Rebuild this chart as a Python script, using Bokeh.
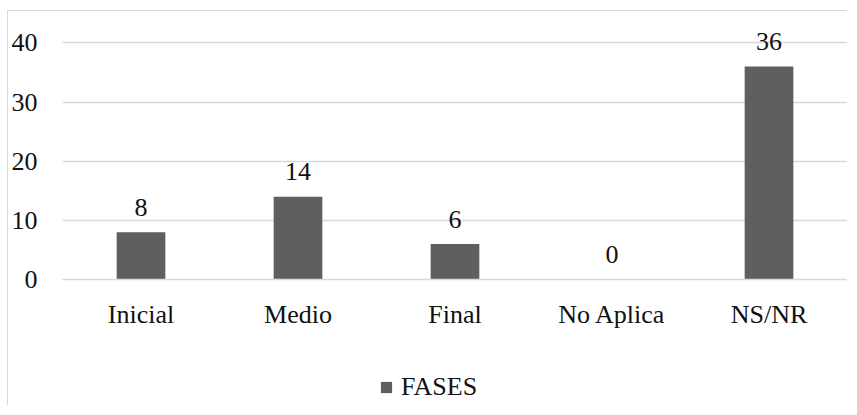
from bokeh.plotting import figure
from bokeh.layouts import column
from bokeh.models import ColumnDataSource, LabelSet, Legend, LegendItem, Range1d, SingleIntervalTicker
from bokeh.embed import file_html
from bokeh.resources import INLINE

categories = ["Inicial", "Medio", "Final", "No Aplica", "NS/NR"]
values = [8, 14, 6, 0, 36]
series_name = "FASES"

FONT = "Liberation Serif"
BAR = "#5f5f5f"
GRID = "#d9d9d9"
TXT = "#111111"

src = ColumnDataSource(dict(cat=categories, val=values, lab=[str(v) for v in values]))

p = figure(x_range=categories, width=839, height=330, output_backend="svg",
           toolbar_location=None, min_border_left=40, min_border_right=0,
           min_border_top=0, min_border_bottom=62)
p.y_range = Range1d(0, 45.3)

r = p.vbar(x="cat", top="val", width=0.31, source=src, fill_color=BAR, line_color=None)

p.outline_line_color = None
p.background_fill_color = "white"
p.border_fill_color = "white"

p.xgrid.grid_line_color = None
p.ygrid.grid_line_color = GRID
p.ygrid.grid_line_width = 1.5
p.yaxis.ticker = SingleIntervalTicker(interval=10)

p.yaxis.axis_line_color = None
p.yaxis.major_tick_line_color = None
p.yaxis.minor_tick_line_color = None
p.yaxis.major_label_standoff = 19
p.yaxis.major_label_text_font = FONT
p.yaxis.major_label_text_font_size = "26px"
p.yaxis.major_label_text_color = TXT

p.xaxis.axis_line_color = GRID
p.xaxis.axis_line_width = 1.5
p.xaxis.major_tick_line_color = None
p.xaxis.minor_tick_line_color = None
p.xaxis.major_label_standoff = 14
p.xaxis.major_label_text_font = FONT
p.xaxis.major_label_text_font_size = "26px"
p.xaxis.major_label_text_color = TXT

labels = LabelSet(x="cat", y="val", text="lab", source=src, y_offset=16.5,
                  text_align="center", text_baseline="alphabetic",
                  text_font=FONT, text_font_size="26px", text_color=TXT)
p.add_layout(labels)

# legend-only strip below the chart
q = figure(width=839, height=64, output_backend="svg", toolbar_location=None,
           min_border_left=0, min_border_right=0, min_border_top=0, min_border_bottom=0,
           x_range=Range1d(0, 1), y_range=Range1d(0, 1))
q.axis.visible = False
q.grid.grid_line_color = None
q.outline_line_color = None
dummy = q.vbar(x=[5], top=[5], width=0.1, fill_color=BAR, line_color=None)

legend = Legend(items=[LegendItem(label=series_name, renderers=[dummy])],
                location=(317, 3), orientation="horizontal",
                glyph_width=14, glyph_height=14, label_standoff=8,
                padding=0, margin=0, spacing=0,
                border_line_color=None, background_fill_alpha=0,
                label_text_font=FONT, label_text_font_size="26px",
                label_text_color=TXT)
q.add_layout(legend, "center")

lay = column(p, q, spacing=0)
lay.styles = {"border-left": "1px solid #d9d9d9", "border-top": "1px solid #d9d9d9",
              "margin-left": "7px", "margin-top": "10px"}

open("out.html", "w").write(file_html(lay, INLINE))
